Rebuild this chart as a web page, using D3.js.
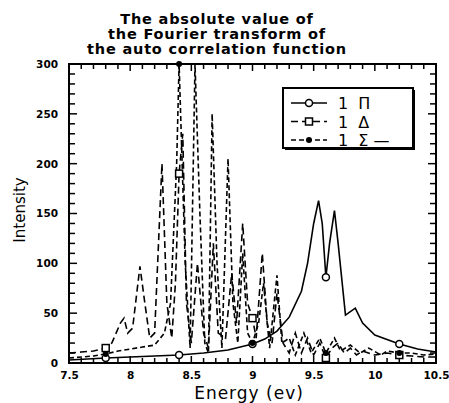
<!DOCTYPE html>
<html>
<head>
<meta charset="utf-8">
<script src="https://cdn.jsdelivr.net/npm/d3@7"></script>
<style>
  body { margin: 0; background: #fff; }
  text { font-family: "DejaVu Sans", Arial, sans-serif; fill: #000; }
</style>
</head>
<body>
<div id="chart"></div>
<script>
// Title lines
const titleLines = ["The absolute value of", "the Fourier transform of", "the auto correlation function"];

// Axis ticks
const xTickLabels = [7.5, 8, 8.5, 9, 9.5, 10, 10.5];
const yTickLabels = [0, 50, 100, 150, 200, 250, 300];

// Marker positions (energy, eV)
const markerEnergies = [7.8, 8.4, 9.0, 9.6, 10.2];

// 1 Pi (solid, open circles)
const piEnergy = [7.5, 7.8, 8.0, 8.2, 8.4, 8.6, 8.8, 9.0, 9.1, 9.2, 9.3, 9.4, 9.45, 9.5, 9.54, 9.57, 9.6, 9.63, 9.67, 9.7, 9.76, 9.84, 9.9, 10.0, 10.2, 10.35, 10.5];
const piValue  = [3, 5, 6, 7, 8, 10, 13, 19, 24, 32, 46, 72, 100, 140, 163, 140, 86, 120, 153, 120, 48, 55, 40, 28, 19, 14, 11];

// 1 Delta (dashed, open squares)
const deltaEnergy = [7.5, 7.6, 7.7, 7.8, 7.85, 7.92, 7.95, 7.98, 8.02, 8.08, 8.12, 8.16, 8.2, 8.26, 8.3, 8.34, 8.37, 8.4, 8.43, 8.46, 8.5, 8.55, 8.6, 8.64, 8.68, 8.72, 8.78, 8.83, 8.87, 8.92, 8.96, 9.0, 9.03, 9.08, 9.12, 9.16, 9.2, 9.25, 9.3, 9.35, 9.4, 9.45, 9.5, 9.55, 9.6, 9.65, 9.7, 9.75, 9.8, 9.85, 9.9, 10.0, 10.1, 10.2, 10.3, 10.4, 10.5];
const deltaValue  = [10, 11, 12, 15, 20, 40, 45, 30, 35, 97, 60, 25, 30, 200, 60, 25, 80, 190, 230, 60, 20, 100, 30, 15, 120, 30, 25, 90, 40, 140, 60, 45, 25, 110, 40, 20, 70, 20, 10, 30, 10, 25, 8, 20, 5, 15, 20, 10, 15, 8, 12, 8, 10, 8, 7, 6, 6];

// 1 Sigma (short dashes, filled dots)
const sigmaEnergy = [7.5, 7.6, 7.7, 7.8, 7.9, 8.0, 8.1, 8.2, 8.28, 8.33, 8.38, 8.4, 8.45, 8.49, 8.53, 8.57, 8.61, 8.64, 8.67, 8.71, 8.75, 8.8, 8.84, 8.88, 8.92, 8.96, 9.0, 9.05, 9.09, 9.14, 9.2, 9.24, 9.3, 9.35, 9.42, 9.48, 9.55, 9.6, 9.67, 9.72, 9.8, 9.88, 9.95, 10.05, 10.1, 10.2, 10.3, 10.4, 10.5];
const sigmaValue  = [5, 6, 7, 9, 12, 14, 16, 18, 30, 60, 200, 300, 100, 15, 300, 150, 20, 10, 250, 100, 15, 205, 60, 20, 110, 30, 20, 40, 80, 15, 88, 20, 25, 8, 30, 10, 25, 10, 25, 12, 18, 10, 15, 8, 12, 10, 10, 8, 9];

const width = 449, height = 403;
const margin = {top: 64, right: 13, bottom: 40, left: 69};
const plotW = width - margin.left - margin.right,
      plotH = height - margin.top - margin.bottom;

const svg = d3.select("#chart").append("svg")
  .attr("width", width)
  .attr("height", height);

// Title
svg.append("g").selectAll("text")
  .data(titleLines)
  .enter().append("text")
  .attr("x", 217)
  .attr("y", (d, i) => 24 + i * 15)
  .attr("text-anchor", "middle")
  .style("font-size", "14.5px")
  .style("font-weight", "bold")
  .style("letter-spacing", "0.8px")
  .text(d => d);

const g = svg.append("g")
  .attr("transform", "translate(" + margin.left + "," + margin.top + ")");

const x = d3.scaleLinear().domain([7.5, 10.5]).range([0, plotW]);
const y = d3.scaleLinear().domain([0, 300]).range([plotH, 0]);

// Minor + major ticks on all four sides, pointing inward
const xMinor = d3.range(7.5, 10.501, 0.1);
const yMinor = d3.range(0, 300.1, 10);

const tickStyle = (sel) => sel.attr("stroke", "#000").attr("stroke-width", 1.5);

g.append("g").selectAll("line").data(xMinor).enter().append("line")
  .attr("x1", d => x(d)).attr("x2", d => x(d))
  .attr("y1", plotH).attr("y2", (d, i) => plotH - (i % 5 === 0 ? 7 : 5))
  .call(tickStyle);
g.append("g").selectAll("line").data(xMinor).enter().append("line")
  .attr("x1", d => x(d)).attr("x2", d => x(d))
  .attr("y1", 0).attr("y2", (d, i) => (i % 5 === 0 ? 7 : 5))
  .call(tickStyle);
g.append("g").selectAll("line").data(yMinor).enter().append("line")
  .attr("y1", d => y(d)).attr("y2", d => y(d))
  .attr("x1", 0).attr("x2", (d, i) => (i % 5 === 0 ? 8 : 6))
  .call(tickStyle);
g.append("g").selectAll("line").data(yMinor).enter().append("line")
  .attr("y1", d => y(d)).attr("y2", d => y(d))
  .attr("x1", plotW).attr("x2", (d, i) => plotW - (i % 5 === 0 ? 8 : 6))
  .call(tickStyle);

// Tick labels via axes
const xAxis = g.append("g")
  .attr("transform", "translate(0," + plotH + ")")
  .call(d3.axisBottom(x).tickValues(xTickLabels).tickSize(0).tickPadding(9)
    .tickFormat(d => d));
xAxis.select(".domain").remove();
xAxis.selectAll("text").style("font-size", "10.5px").style("font-weight", "bold")
  .style("font-family", "DejaVu Sans, sans-serif");

const yAxis = g.append("g")
  .call(d3.axisLeft(y).tickValues(yTickLabels).tickSize(0).tickPadding(11));
yAxis.select(".domain").remove();
yAxis.selectAll("text").style("font-size", "10.5px").style("font-weight", "bold")
  .style("font-family", "DejaVu Sans, sans-serif");

// Axis labels
svg.append("text")
  .attr("x", 249).attr("y", 399)
  .attr("text-anchor", "middle")
  .style("font-size", "17px")
  .style("letter-spacing", "1px")
  .text("Energy (ev)");

svg.append("text")
  .attr("transform", "translate(25,210) rotate(-90)")
  .attr("text-anchor", "middle")
  .style("font-size", "15px")
  .text("Intensity");

// Clip for curves
svg.append("defs").append("clipPath").attr("id", "clip")
  .append("rect").attr("x", 0).attr("y", -2).attr("width", plotW).attr("height", plotH + 2);

const series = [
  {name: "Pi", energy: piEnergy, value: piValue, dash: null, marker: "circle"},
  {name: "Delta", energy: deltaEnergy, value: deltaValue, dash: "7,4", marker: "square"},
  {name: "Sigma", energy: sigmaEnergy, value: sigmaValue, dash: "5,3", marker: "dot"}
];

const line = d3.line().x(d => x(d[0])).y(d => y(d[1]));

const curves = g.append("g").attr("clip-path", "url(#clip)");

series.forEach(s => {
  const pts = s.energy.map((e, i) => [e, s.value[i]]);
  curves.append("path")
    .datum(pts)
    .attr("d", line)
    .attr("fill", "none")
    .attr("stroke", "#000")
    .attr("stroke-width", 1.6)
    .attr("stroke-dasharray", s.dash);

  const mk = pts.filter(p => markerEnergies.some(m => Math.abs(m - p[0]) < 1e-9));
  const mg = g.append("g");
  if (s.marker === "circle") {
    mg.selectAll("circle").data(mk).enter().append("circle")
      .attr("cx", d => x(d[0])).attr("cy", d => y(d[1])).attr("r", 3.5)
      .attr("fill", "#fff").attr("stroke", "#000").attr("stroke-width", 1.5);
  } else if (s.marker === "square") {
    mg.selectAll("rect").data(mk).enter().append("rect")
      .attr("x", d => x(d[0]) - 3.5).attr("y", d => y(d[1]) - 3.5)
      .attr("width", 7).attr("height", 7)
      .attr("fill", "#fff").attr("stroke", "#000").attr("stroke-width", 1.5);
  } else {
    mg.selectAll("circle").data(mk).enter().append("circle")
      .attr("cx", d => x(d[0])).attr("cy", d => y(d[1])).attr("r", 3)
      .attr("fill", "#000");
  }
});

// Plot frame
g.append("rect")
  .attr("x", 0).attr("y", 0).attr("width", plotW).attr("height", plotH)
  .attr("fill", "none").attr("stroke", "#000").attr("stroke-width", 2);

// Legend
const legend = svg.append("g").attr("transform", "translate(283,88)");
legend.append("rect")
  .attr("x", 2).attr("y", 2).attr("width", 130).attr("height", 60)
  .attr("fill", "#000");
legend.append("rect")
  .attr("x", 0).attr("y", 0).attr("width", 130).attr("height", 60)
  .attr("fill", "#fff").attr("stroke", "#000").attr("stroke-width", 2);

const legendItems = [
  {label: "1  Π", s: series[0]},
  {label: "1  Δ", s: series[1]},
  {label: "1  Σ —", s: series[2]}
];
legendItems.forEach((it, i) => {
  const ly = 15 + i * 18.5;
  legend.append("line")
    .attr("x1", 8).attr("x2", 44).attr("y1", ly).attr("y2", ly)
    .attr("stroke", "#000").attr("stroke-width", 1.6)
    .attr("stroke-dasharray", it.s.dash);
  if (it.s.marker === "circle") {
    legend.append("circle").attr("cx", 26).attr("cy", ly).attr("r", 3.5)
      .attr("fill", "#fff").attr("stroke", "#000").attr("stroke-width", 1.5);
  } else if (it.s.marker === "square") {
    legend.append("rect").attr("x", 22.5).attr("y", ly - 3.5).attr("width", 7).attr("height", 7)
      .attr("fill", "#fff").attr("stroke", "#000").attr("stroke-width", 1.5);
  } else {
    legend.append("circle").attr("cx", 26).attr("cy", ly).attr("r", 3).attr("fill", "#000");
  }
  legend.append("text")
    .attr("x", 55).attr("y", ly + 6)
    .style("font-size", "16px")
    .style("white-space", "pre")
    .attr("xml:space", "preserve")
    .text(it.label);
});
</script>
</body>
</html>
